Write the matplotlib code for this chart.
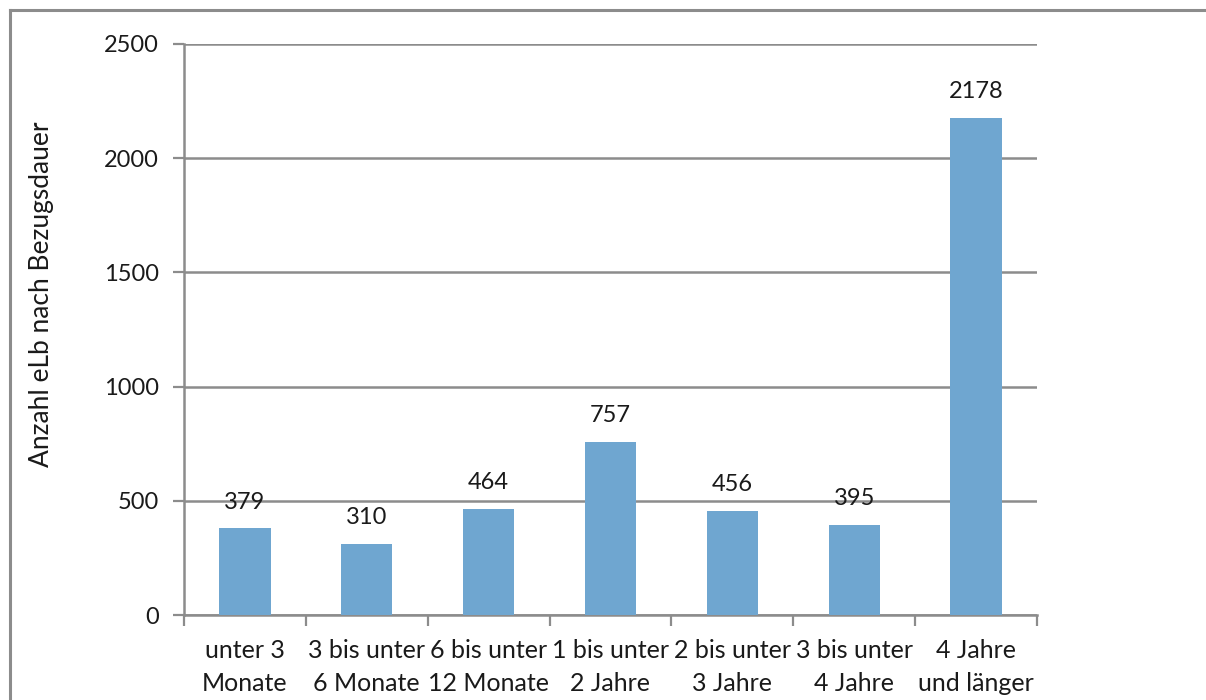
import matplotlib
matplotlib.use("Agg")
import matplotlib.pyplot as plt
from matplotlib.lines import Line2D

plt.rcParams['font.family'] = ['Lato', 'DejaVu Sans']

categories = ["unter 3\nMonate", "3 bis unter\n6 Monate", "6 bis unter\n12 Monate",
              "1 bis unter\n2 Jahre", "2 bis unter\n3 Jahre", "3 bis unter\n4 Jahre",
              "4 Jahre\nund länger"]
values = [379, 310, 464, 757, 456, 395, 2178]
y_ticks = [0, 500, 1000, 1500, 2000, 2500]
y_label = "Anzahl eLb nach Bezugsdauer"

bar_color = "#6fa6d0"
grid_color = "#8c8c8c"
text_color = "#1a1a1a"

fig = plt.figure(figsize=(12.06, 7.0), dpi=100)
ax = fig.add_axes([184 / 1206, 1 - 615 / 700, (1037 - 184) / 1206, (615 - 44) / 700])

x = list(range(len(categories)))
bars = ax.bar(x, values, width=0.42, color=bar_color, zorder=3)

ax.set_xlim(-0.5, len(categories) - 0.5)
ax.set_ylim(0, 2500)
ax.set_yticks(y_ticks)
ax.set_yticklabels([str(t) for t in y_ticks], fontsize=17, color=text_color)
ax.set_xticks(x)
ax.set_xticklabels(categories, fontsize=18, color=text_color, linespacing=1.55)
ax.set_xticks([i - 0.5 for i in range(len(categories) + 1)], minor=True)

ax.tick_params(axis='x', which='major', length=0, pad=17)
ax.tick_params(axis='x', which='minor', length=8, width=1.6, color=grid_color, direction='out')
ax.tick_params(axis='y', which='major', length=8, width=1.6, color=grid_color, direction='out', pad=10)

ax.yaxis.grid(True, color=grid_color, linewidth=1.8, zorder=0)
ax.set_axisbelow(True)

for side in ('top', 'right'):
    ax.spines[side].set_visible(False)
for side in ('left', 'bottom'):
    ax.spines[side].set_color(grid_color)
    ax.spines[side].set_linewidth(1.8)

for rect, v in zip(bars, values):
    ax.annotate(str(v), (rect.get_x() + rect.get_width() / 2, v),
                xytext=(0, 19), textcoords='offset points',
                ha='center', va='center', fontsize=17, color=text_color)

ax.set_ylabel(y_label, fontsize=19, color=text_color)
ax.yaxis.set_label_coords(-0.152, 0.562)

# chart area frame (top and left edges)
fig.add_artist(Line2D([9.5 / 1206, 1.0], [1 - 10 / 700, 1 - 10 / 700],
                      transform=fig.transFigure, color=grid_color, linewidth=2.2))
fig.add_artist(Line2D([9.5 / 1206, 9.5 / 1206], [0.0, 1 - 10 / 700],
                      transform=fig.transFigure, color=grid_color, linewidth=2.2))

fig.savefig("out.png", dpi=100, facecolor="white")
